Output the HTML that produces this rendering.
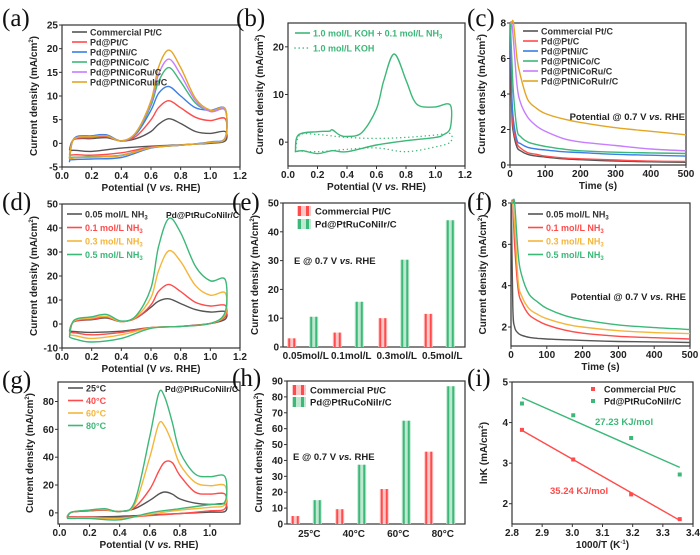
<!DOCTYPE html>
<html><head><meta charset="utf-8">
<style>
html,body{margin:0;padding:0;background:#fff;}
svg{display:block;font-family:"Liberation Sans",Arial,sans-serif;font-weight:bold;}
</style></head>
<body>
<svg id="fig" width="700" height="555" viewBox="0 0 700 555" xmlns="http://www.w3.org/2000/svg"></svg>
<script>
// ---------- DATA ----------
const cvX = [0.05,0.08,0.2,0.3,0.4,0.5,0.6,0.65,0.72,0.8,0.9,1.0,1.1];
const cvXBack = [1.1,1.0,0.8,0.6,0.4,0.2,0.1,0.05];
const aNames = ["Commercial Pt/C","Pd@Pt/C","Pd@PtNi/C","Pd@PtNiCo/C","Pd@PtNiCoRu/C","Pd@PtNiCoRuIr/C"];
const aFwd = [
 [-1.5,0.8,1.0,1.2,0.5,1.0,2.5,4.0,5.2,4.2,2.5,2.1,2.5],
 [-2.5,0.8,1.2,1.4,0.5,1.5,5.0,7.5,9.0,7.5,5.5,4.8,5.2],
 [-4.0,1.0,1.6,1.8,0.5,2.0,7.0,10.5,12.0,10.0,7.5,7.0,7.3],
 [-3.0,0.9,1.4,1.6,0.5,2.2,8.0,13.0,16.0,13.0,8.5,6.8,7.0],
 [-3.2,0.9,1.4,1.6,0.5,2.3,8.5,14.5,17.8,14.5,9.0,6.7,7.0],
 [-3.3,0.9,1.4,1.6,0.5,2.4,9.0,16.0,19.7,16.0,9.5,7.0,7.3]
];
const aBack = [
 [0.5,0.0,-0.3,-0.6,-1.0,-1.7,-1.5,-1.5],
 [1.0,0.2,-0.4,-0.8,-2.0,-2.5,-2.4,-2.5],
 [1.2,0.3,-0.4,-1.0,-3.0,-3.3,-3.4,-3.5],
 [1.1,0.2,-0.4,-0.9,-2.5,-2.8,-2.9,-3.0],
 [1.1,0.2,-0.4,-0.9,-2.6,-2.9,-3.0,-3.2],
 [1.1,0.2,-0.4,-0.9,-2.6,-2.9,-3.0,-3.3]
];
const bSolidX = [0.05,0.07,0.2,0.28,0.3,0.35,0.4,0.5,0.6,0.65,0.72,0.8,0.85,0.9,1.0,1.1,1.1,1.05,1.0,0.8,0.6,0.4,0.3,0.2,0.1,0.05];
const bSolidY = [-2,1.5,2.2,2.3,2.6,1.5,1.2,2.0,7.0,13.0,18.5,13.0,9.0,7.5,7.4,7.8,3.0,1.5,1.0,0.3,-0.6,-2.0,-1.8,-2.4,-1.8,-2];
const bDotX = [0.05,0.08,0.2,0.4,0.6,0.8,1.0,1.1,1.1,1.0,0.8,0.6,0.4,0.2,0.05];
const bDotY = [-2,1.5,1.6,1.0,0.8,1.0,1.5,1.8,0.0,-1.0,-2.0,-1.2,-1.5,-2.0,-1.8];
const tX = [1,5,10,20,30,50,75,100,150,200,300,400,500];
const cSeries = [
 [8,3,1.8,1.0,0.8,0.6,0.5,0.45,0.35,0.3,0.22,0.18,0.15],
 [8,3.5,2,1.2,0.95,0.7,0.6,0.5,0.4,0.35,0.28,0.22,0.2],
 [8,4,2.5,1.4,1.2,1.0,0.9,0.85,0.75,0.7,0.6,0.55,0.5],
 [8,6,4,2,1.6,1.3,1.15,1.05,0.9,0.8,0.72,0.68,0.65],
 [8.5,8.5,7,4.5,3.5,2.7,2.2,1.9,1.5,1.3,1.1,0.9,0.8],
 [8.5,8.5,8.5,6,5,3.7,3.2,2.9,2.6,2.4,2.1,1.9,1.7]
];
const concNames = ["0.05 mol/L NH","0.1 mol/L NH","0.3 mol/L NH","0.5 mol/L NH"];
const dFwd = [
 [-3,1.0,1.8,2.5,1.0,2.5,7.0,9.5,10.5,8.5,6.0,5.0,5.2],
 [-3.5,1.0,2.0,2.8,1.0,2.5,8.0,13.5,16.5,13.5,9.0,7.5,7.8],
 [-4.5,1.2,2.5,3.2,1.0,3.0,11.0,22.0,30.5,26.0,16.0,12.0,13.0],
 [-5.5,1.5,3.0,4.0,1.2,3.5,15.0,32.0,44.0,38.0,24.0,18.0,18.5]
];
const dBack = [
 [2,0.2,-1,-1.5,-3,-3.5,-3.2,-3],
 [3,0.2,-1,-1.5,-3.5,-4.5,-3.8,-3.5],
 [4,0.2,-1,-1.6,-4.5,-6.0,-5.0,-4.5],
 [5,0.2,-1,-1.8,-6.0,-7.5,-6.5,-5.5]
];
const eCats = ["0.05mol/L","0.1mol/L","0.3mol/L","0.5mol/L"];
const eComm = [3,5,10,11.5];
const ePd = [10.5,15.7,30.3,44];
const fSeries = [
 [8,3,2,1.7,1.6,1.5,1.45,1.42,1.38,1.35,1.3,1.28,1.25],
 [8,8,6,3.8,3.2,2.6,2.3,2.1,1.85,1.7,1.55,1.48,1.42],
 [8,8,7,4.2,3.5,2.9,2.6,2.4,2.15,2.0,1.82,1.73,1.68],
 [8,8,8,5.5,4.5,3.6,3.2,2.9,2.55,2.35,2.1,1.97,1.88]
];
const tempNames = ["25°C","40°C","60°C","80°C"];
const gFwdX = [0.05,0.08,0.2,0.3,0.4,0.5,0.6,0.66,0.7,0.75,0.8,0.9,1.0,1.1];
const gFwd = [
 [-3,0.5,1.5,2.0,1.0,3.0,9.0,13.5,15.0,13.5,10.0,7.0,6.0,6.5],
 [-3,0.5,1.5,2.0,1.0,4.0,17.0,30.0,36.5,36.0,27.0,15.0,13.5,13.5],
 [-3.5,0.5,2.0,2.5,1.0,6.0,40.0,64.0,62.0,50.0,35.0,22.0,19.5,19.5],
 [-4,0.5,2.0,3.0,1.0,8.0,55.0,86.0,83.0,65.0,44.0,28.0,26.0,26.0]
];
const gBack = [
 [1,0.5,-0.5,-1.5,-2.5,-3,-3,-3],
 [3,1.5,-0.5,-2,-3.5,-3,-3,-3],
 [6,4,2,-1,-4,-3.5,-3.5,-3.5],
 [8,6,3,0,-5,-4,-4,-4]
];
const hCats = ["25°C","40°C","60°C","80°C"];
const hComm = [5,9.3,22,45.5];
const hPd = [15,37.3,65,86.7];
const iX = [2.833,3.003,3.195,3.356];
const iComm = [3.82,3.09,2.23,1.62];
const iPd = [4.47,4.18,3.62,2.72];

// ---------- HELPERS ----------
const NS="http://www.w3.org/2000/svg";
const svg=document.getElementById('fig');
function mk(tag,parent){const e=document.createElementNS(NS,tag);(parent||svg).appendChild(e);return e;}
function txt(parent,x,y,s,size,anchor,fill){
  const t=mk('text',parent);t.setAttribute('x',x);t.setAttribute('y',y);
  t.setAttribute('font-size',size);t.setAttribute('text-anchor',anchor||'start');
  t.setAttribute('fill',fill||'#222');t.textContent=s;
  
  
  return t;
}
function panel(name,b,xr,yr,xt,yt,xLabels,xtitle,ytitle,letter,lx,ly){
  const g=mk('g');
  
  
  const sx=v=>b.x0+(v-xr[0])/(xr[1]-xr[0])*(b.x1-b.x0);
  const sy=v=>b.y1-(v-yr[0])/(yr[1]-yr[0])*(b.y1-b.y0);
  const r=mk('rect',g);r.setAttribute('x',b.x0);r.setAttribute('y',b.y0);
  r.setAttribute('width',b.x1-b.x0);r.setAttribute('height',b.y1-b.y0);
  r.setAttribute('fill','none');r.setAttribute('stroke','#333');r.setAttribute('stroke-width','1.2');
  
  
  yt.forEach(v=>{
    const y=sy(v);const l=mk('line',g);l.setAttribute('x1',b.x0-3);l.setAttribute('x2',b.x0);
    l.setAttribute('y1',y);l.setAttribute('y2',y);l.setAttribute('stroke','#333');
    
    
    txt(g,b.x0-4,y+3.5,String(v),10,'end');
  });
  if(xt) xt.forEach((v,i)=>{
    const x=sx(v);const l=mk('line',g);l.setAttribute('x1',x);l.setAttribute('x2',x);
    l.setAttribute('y1',b.y1);l.setAttribute('y2',b.y1+3);l.setAttribute('stroke','#333');
    
    
    txt(g,x,b.y1+12,xLabels?xLabels[i]:String(v),10,'middle');
  });
  if(xtitle) txt(g,(b.x0+b.x1)/2,b.y1+24,'',10,'middle').innerHTML=xtitle;
  const yc=(b.y0+b.y1)/2, yx=b.x0-25;
  const yt2=txt(g,yx,yc,'',10,'middle');
  yt2.setAttribute('transform','rotate(-90 '+yx+' '+yc+')');
  yt2.innerHTML=ytitle;
  const L=txt(g,lx,ly,letter,25,'start','#111');
  L.setAttribute('font-family','"Liberation Serif",serif');L.setAttribute('font-weight','normal');
  return {g,sx,sy,b};
}
function smooth(pts){
  let d='M'+pts[0][0].toFixed(1)+','+pts[0][1].toFixed(1);
  for(let i=0;i<pts.length-1;i++){
    const p0=pts[i-1]||pts[i],p1=pts[i],p2=pts[i+1],p3=pts[i+2]||p2;
    const c1=[p1[0]+(p2[0]-p0[0])/6,p1[1]+(p2[1]-p0[1])/6];
    const c2=[p2[0]-(p3[0]-p1[0])/6,p2[1]-(p3[1]-p1[1])/6];
    d+='C'+c1.map(v=>v.toFixed(1))+' '+c2.map(v=>v.toFixed(1))+' '+p2[0].toFixed(1)+','+p2[1].toFixed(1);
  }
  return d;
}
function curve(P,xs,ys,color,dash){
  const pts=xs.map((x,i)=>[P.sx(x),Math.max(P.b.y0,Math.min(P.b.y1,P.sy(ys[i])))]);
  const p=mk('path',P.g);p.setAttribute('d',smooth(pts));p.setAttribute('fill','none');
  p.setAttribute('stroke',color);p.setAttribute('stroke-width','1.4');
  if(dash){p.setAttribute('stroke-dasharray',dash);p.setAttribute('stroke-linecap','round');}
  
  
  return p;
}
function legLine(P,x,y,color,label,sub,dash,textColor){
  const l=mk('line',P.g);l.setAttribute('x1',x);l.setAttribute('x2',x+15);l.setAttribute('y1',y);l.setAttribute('y2',y);
  l.setAttribute('stroke',color);l.setAttribute('stroke-width','1.6');
  if(dash){l.setAttribute('stroke-dasharray',dash);l.setAttribute('stroke-linecap','round');}
  
  
  const t=txt(P.g,x+18,y+3.5,'',9,'start',textColor||(color==='#555'?'#333':color));
  t.innerHTML=label+(sub?'<tspan font-size="6" dy="2">3</tspan>':'');
  
}
function barPair(P,cx,v,color,light){
  const w=9,x=cx-w/2;
  const r=mk('rect',P.g);r.setAttribute('x',x);r.setAttribute('y',P.sy(v));r.setAttribute('width',w);
  r.setAttribute('height',P.b.y1-P.sy(v));r.setAttribute('fill',light);
  
  
  [x+1,x+w-3].forEach(sx=>{const s=mk('rect',P.g);s.setAttribute('x',sx);s.setAttribute('y',P.sy(v));
    s.setAttribute('width',2);s.setAttribute('height',P.b.y1-P.sy(v));s.setAttribute('fill',color);
    
    });
}
function legBar(P,x,y,color,light,label){
  const r=mk('rect',P.g);r.setAttribute('x',x);r.setAttribute('y',y-5);r.setAttribute('width',14);r.setAttribute('height',10);r.setAttribute('fill',light);
  
  
  [x+1,x+9].forEach(sx=>{const s=mk('rect',P.g);s.setAttribute('x',sx);s.setAttribute('y',y-5);s.setAttribute('width',3);s.setAttribute('height',10);s.setAttribute('fill',color);
    
    });
  const t=txt(P.g,x+18,y+3.5,label,9.5,'start','#222');
  
}
const CD='Current density (mA/cm<tspan font-size="6" dy="-4">2</tspan><tspan dy="4">)</tspan>';
const POT='Potential (V <tspan font-style="italic">vs.</tspan> RHE)';
const GRAY='#555',RED='#ff4b4b',BLUE='#3b7ee8',GREEN='#3cb878',PURPLE='#c77dff',GOLD='#e3a624',GOLD2='#f4b63a';
const aCols=[GRAY,RED,BLUE,GREEN,PURPLE,GOLD];
const pot=[0,0.2,0.4,0.6,0.8,1.0,1.2],potL=['0.0','0.2','0.4','0.6','0.8','1.0','1.2'];
const tt=[0,100,200,300,400,500];

// (a)
let P=panel('panel-a',{x0:62,x1:240,y0:25,y1:167},[0,1.2],[-5,25],pot,[-5,0,5,10,15,20,25],potL,POT,CD,'(a)',2,26);
aNames.forEach((n,i)=>curve(P,cvX.concat(cvXBack),aFwd[i].concat(aBack[i]),aCols[i]));
aNames.forEach((n,i)=>legLine(P,72,32+i*10,aCols[i],n,false,null,'#333'));
// (b)
P=panel('panel-b',{x0:288,x1:465,y0:23,y1:166},[0,1.2],[-5,25],pot,[0,10,20],potL,POT,CD,'(b)',236,26);
curve(P,bSolidX,bSolidY,GREEN);
curve(P,bDotX,bDotY,GREEN,'0.1 4');
legLine(P,295,33,GREEN,'1.0 mol/L KOH + 0.1 mol/L NH',true);
legLine(P,295,48,GREEN,'1.0 mol/L KOH',false,'0.1 4');
// (c)
P=panel('panel-c',{x0:510,x1:686,y0:23,y1:165},[0,500],[0,8],tt,[0,2,4,6,8],null,'Time (s)',CD,'(c)',467,26);
cSeries.forEach((s,i)=>curve(P,tX,s,aCols[i]));
aNames.forEach((n,i)=>legLine(P,523,31+i*10,aCols[i],n,false,null,'#333'));
txt(P.g,685,120,'',9.5,'end').innerHTML='Potential @ 0.7 V <tspan font-style="italic">vs.</tspan> RHE';
// (d)
const dCols=[GRAY,RED,GOLD2,GREEN];
P=panel('panel-d',{x0:62,x1:240,y0:204,y1:348},[0,1.2],[-10,50],pot,[-10,0,10,20,30,40,50],potL,POT,CD,'(d)',2,210);
dFwd.forEach((s,i)=>curve(P,cvX.concat(cvXBack),s.concat(dBack[i]),dCols[i]));
concNames.forEach((n,i)=>legLine(P,67,214+i*13.5,dCols[i],n,true));
txt(P.g,239,218,'Pd@PtRuCoNiIr/C',8.5,'end');
// (e)
P=panel('panel-e',{x0:283,x1:465,y0:203,y1:347},[0,4],[0,50],null,[0,10,20,30,40,50],null,null,CD,'(e)',232,210);
eCats.forEach((c,i)=>{const cx=P.sx(i+0.5);barPair(P,cx-14,eComm[i],RED,'#ffc8c8');barPair(P,cx+8,ePd[i],GREEN,'#bfe8d0');
  txt(P.g,cx,359,c,10,'middle');});
legBar(P,297,211,RED,'#ffc8c8','Commercial Pt/C');
legBar(P,297,224,GREEN,'#bfe8d0','Pd@PtRuCoNiIr/C');
txt(P.g,294,264,'',9.5,'start').innerHTML='E @ 0.7 V <tspan font-style="italic">vs.</tspan> RHE';
// (f)
P=panel('panel-f',{x0:511,x1:690,y0:203,y1:346},[0,500],[1.08,8],tt,[2,4,6,8],null,'Time (s)',CD,'(f)',467,210);
fSeries.forEach((s,i)=>curve(P,tX,s,dCols[i]));
concNames.forEach((n,i)=>legLine(P,528,214+i*13.5,dCols[i],n,true));
txt(P.g,686,300,'',9.5,'end').innerHTML='Potential @ 0.7 V <tspan font-style="italic">vs.</tspan> RHE';
// (g)
P=panel('panel-g',{x0:58,x1:240,y0:382,y1:524},[-0.01,1.2],[-8,94],pot.slice(0,6),[0,20,40,60,80],potL,POT,CD,'(g)',2,388);
gFwd.forEach((s,i)=>curve(P,gFwdX.concat(cvXBack),s.concat(gBack[i]),dCols[i]));
tempNames.forEach((n,i)=>legLine(P,68,388+i*12.5,dCols[i],n));
txt(P.g,238,392,'Pd@PtRuCoNiIr/C',8.5,'end');
// (h)
P=panel('panel-h',{x0:287,x1:465,y0:381,y1:524},[0,4],[0,90],null,[0,10,20,30,40,50,60,70,80,90],null,null,CD,'(h)',232,386);
hCats.forEach((c,i)=>{const cx=P.sx(i+0.5);barPair(P,cx-14,hComm[i],RED,'#ffc8c8');barPair(P,cx+8,hPd[i],GREEN,'#bfe8d0');
  txt(P.g,cx,537,c,10,'middle');});
legBar(P,292,390,RED,'#ffc8c8','Commercial Pt/C');
legBar(P,292,402,GREEN,'#bfe8d0','Pd@PtRuCoNiIr/C');
txt(P.g,293,460,'',9.5,'start').innerHTML='E @ 0.7 V <tspan font-style="italic">vs.</tspan> RHE';
// (i)
P=panel('panel-i',{x0:512,x1:693,y0:382,y1:524},[2.8,3.4],[1.5,5],[2.8,2.9,3.0,3.1,3.2,3.3,3.4],[2,3,4,5],['2.8','2.9','3.0','3.1','3.2','3.3','3.4'],'1000/T (K<tspan font-size="6" dy="-4">-1</tspan><tspan dy="4">)</tspan>','lnK (mA/cm<tspan font-size="6" dy="-4">2</tspan><tspan dy="4">)</tspan>','(i)',467,386);
function fit(xs,ys){const n=xs.length,mx=xs.reduce((a,b)=>a+b)/n,my=ys.reduce((a,b)=>a+b)/n;
  let sxy=0,sxx=0;xs.forEach((x,i)=>{sxy+=(x-mx)*(ys[i]-my);sxx+=(x-mx)*(x-mx);});const k=sxy/sxx;return x=>my+k*(x-mx);}
[[iComm,RED],[iPd,GREEN]].forEach(([ys,c])=>{
  const f=fit(iX,ys);const l=mk('line',P.g);
  l.setAttribute('x1',P.sx(iX[0]));l.setAttribute('y1',P.sy(f(iX[0])));
  l.setAttribute('x2',P.sx(iX[iX.length-1]));l.setAttribute('y2',P.sy(f(iX[iX.length-1])));
  l.setAttribute('stroke',c);l.setAttribute('stroke-width','1.4');
  
  
  ys.forEach((y,i)=>{const m=mk('rect',P.g);m.setAttribute('x',P.sx(iX[i])-2);m.setAttribute('y',P.sy(y)-2);
    m.setAttribute('width',4);m.setAttribute('height',4);m.setAttribute('fill',c);
    
    });
});
[[RED,'Commercial Pt/C',389],[GREEN,'Pd@PtRuCoNiIr/C',401]].forEach(([c,n,y])=>{
  const m=mk('rect',P.g);m.setAttribute('x',591);m.setAttribute('y',y-2);m.setAttribute('width',4);m.setAttribute('height',4);m.setAttribute('fill',c);
  
  
  const t=txt(P.g,604,y+3.5,n,9,'start','#222');
  
});
txt(P.g,595,425,'27.23 KJ/mol',9.5,'start',GREEN);
txt(P.g,550,494,'35.24 KJ/mol',9.5,'start',RED);
</script>
</body></html>
